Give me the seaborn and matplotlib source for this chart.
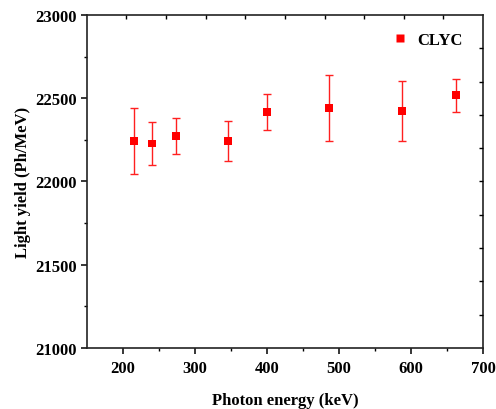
import matplotlib
matplotlib.use("Agg")
import matplotlib.pyplot as plt
import seaborn as sns
import pandas as pd
import numpy as np

energy = [215, 240, 274, 346, 400, 486, 587, 662]
light_yield = [22243, 22228, 22273, 22243, 22418, 22440, 22425, 22518]
yield_err = [200, 130, 110, 120, 110, 200, 180, 100]
series_name = "CLYC"

sns.set_theme(style="white")
plt.rcParams["font.family"] = ["Liberation Serif", "DejaVu Serif"]
plt.rcParams["font.weight"] = "bold"
plt.rcParams["text.color"] = "black"
plt.rcParams["xtick.color"] = "black"
plt.rcParams["ytick.color"] = "black"
plt.rcParams["axes.labelcolor"] = "black"

df = pd.DataFrame({"energy": energy, "ly": light_yield, "err": yield_err, "series": series_name})

fig = plt.figure(figsize=(4.96, 4.10), dpi=100)
ax = fig.add_axes([0.175, 0.149, 0.799, 0.812])

ax.errorbar(df["energy"], df["ly"], yerr=df["err"], fmt="none", ecolor="#ff2020",
            elinewidth=1.0, capsize=3, capthick=1.0, zorder=2)
sns.scatterplot(data=df, x="energy", y="ly", hue="series", palette={series_name: "#ff0000"},
                marker="s", s=32, edgecolor="none", ax=ax, zorder=3)

ax.set_xlim(150, 700)
ax.set_ylim(21000, 23000)
ax.set_xticks([200, 300, 400, 500, 600, 700])
ax.set_xticks([250, 350, 450, 550, 650], minor=True)
ax.set_yticks([21000, 21500, 22000, 22500, 23000])
ax.set_yticks([21250, 21750, 22250, 22750], minor=True)
ax.tick_params(axis="both", which="major", direction="out", length=4, width=1.1,
               color="black", labelsize=12, left=True, bottom=True)
ax.tick_params(axis="x", which="major", pad=5)
ax.tick_params(axis="y", which="major", pad=3)
ax.tick_params(axis="both", which="minor", direction="out", length=2.5, width=1.0,
               color="black", left=True, bottom=True)
for lab in ax.get_xticklabels() + ax.get_yticklabels():
    lab.set_fontweight("bold")

for sp in ax.spines.values():
    sp.set_visible(True)
    sp.set_color("#222222")
    sp.set_linewidth(1.2)

ax.set_xlabel("Photon energy (keV)", fontsize=12, fontweight="bold", labelpad=11)
ax.set_ylabel("Light yield (Ph/MeV)", fontsize=12, fontweight="bold", labelpad=3)

axt = ax.twiny()
axt.set_xlim(0, 10)
axt.set_xticks(range(1, 10))
axt.tick_params(axis="x", direction="in", length=3, width=1.0, labeltop=False, top=True)
axr = ax.twinx()
axr.set_ylim(0, 10)
axr.set_yticks(range(1, 10))
axr.tick_params(axis="y", direction="in", length=3, width=1.0, labelright=False, right=True)
for a in (axt, axr):
    for sp in a.spines.values():
        sp.set_visible(False)

leg = ax.legend(loc="upper right", frameon=False, fontsize=12, handletextpad=0.6,
                handlelength=0.8, borderaxespad=0.5, markerscale=1.0,
                bbox_to_anchor=(0.985, 0.995))
for t in leg.get_texts():
    t.set_fontweight("bold")

fig.savefig("out.png", dpi=100)
